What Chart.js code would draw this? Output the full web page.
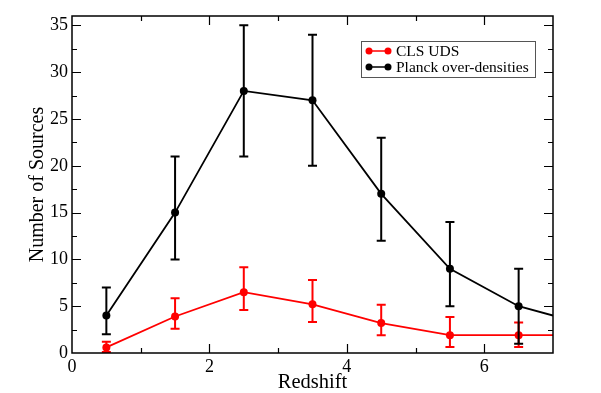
<!DOCTYPE html>
<html>
<head>
<meta charset="utf-8">
<script src="https://cdn.jsdelivr.net/npm/chart.js@4"></script>
<style>
  html, body { margin: 0; padding: 0; background: #fff; }
</style>
</head>
<body>
<canvas id="chart" width="601" height="393"></canvas>
<script>
// Redshift bins (last entry only carries the line to the right edge)
const redshift = [0.5, 1.5, 2.5, 3.5, 4.5, 5.5, 6.5, 7];
const clsUds = [0.6, 3.9, 6.5, 5.2, 3.2, 1.9, 1.9, 1.9];
const clsLow = [0.1, 2.6, 4.6, 3.3, 1.9, 0.65, 0.65];
const clsHigh = [1.2, 5.85, 9.15, 7.8, 5.15, 3.85, 3.25];
const planck = [4, 15, 28, 27, 17, 9, 5, 4];
const planckLow = [2, 10, 21, 20, 12, 5, 1];
const planckHigh = [7, 21, 35, 34, 23, 14, 9];
const seriesNames = ['CLS UDS', 'Planck over-densities'];
const seriesColors = ['#ff0000', '#000000'];

// tick positions: labelled major ticks plus minor ones in between
const xTicks = [0, 1, 2, 3, 4, 5, 6];
const xLabels = [0, 2, 4, 6];
const yTicks = [0, 2.5, 5, 7.5, 10, 12.5, 15, 17.5, 20, 22.5, 25, 27.5, 30, 32.5, 35];
const yLabels = [0, 5, 10, 15, 20, 25, 30, 35];

const serif = "'Liberation Serif', 'DejaVu Serif', serif";

function toPoints(values) {
    return values.map((v, i) => ({ x: redshift[i], y: v }));
}
function radii(values) {
    return values.map((v, i) => i < values.length - 1 ? 4 : 0);
}

// error bars, drawn through the chart scales
const errorBars = {
    id: 'errorBars',
    afterDatasetsDraw(chart) {
        const { ctx, scales: { x, y } } = chart;
        const sets = [
            { low: clsLow, high: clsHigh, color: seriesColors[0] },
            { low: planckLow, high: planckHigh, color: seriesColors[1] }
        ];
        ctx.save();
        sets.forEach(s => {
            ctx.strokeStyle = s.color;
            ctx.lineWidth = 2;
            s.low.forEach((lo, i) => {
                const px = x.getPixelForValue(redshift[i]);
                const y1 = y.getPixelForValue(lo);
                const y2 = y.getPixelForValue(s.high[i]);
                ctx.beginPath();
                ctx.moveTo(px, y1); ctx.lineTo(px, y2);
                ctx.moveTo(px - 4.5, y1); ctx.lineTo(px + 4.5, y1);
                ctx.moveTo(px - 4.5, y2); ctx.lineTo(px + 4.5, y2);
                ctx.stroke();
            });
        });
        ctx.restore();
    }
};

// frame with inward ticks on all four sides
const frame = {
    id: 'frame',
    afterDraw(chart) {
        const { ctx, chartArea: a, scales: { x, y } } = chart;
        ctx.save();
        ctx.strokeStyle = '#000';
        ctx.lineWidth = 1.2;
        ctx.beginPath();
        x.ticks.forEach(t => {
            if (t.value <= x.min || t.value >= x.max) return;
            const px = Math.round(x.getPixelForValue(t.value)) + 0.5;
            const len = xLabels.includes(t.value) ? 9 : 5;
            ctx.moveTo(px, a.bottom); ctx.lineTo(px, a.bottom - len);
            ctx.moveTo(px, a.top); ctx.lineTo(px, a.top + len);
        });
        y.ticks.forEach(t => {
            if (t.value <= y.min || t.value >= y.max) return;
            const py = Math.round(y.getPixelForValue(t.value)) + 0.5;
            const len = yLabels.includes(t.value) ? 9 : 5;
            ctx.moveTo(a.left, py); ctx.lineTo(a.left + len, py);
            ctx.moveTo(a.right, py); ctx.lineTo(a.right - len, py);
        });
        ctx.stroke();
        ctx.lineWidth = 1.5;
        ctx.strokeRect(a.left, a.top, a.right - a.left, a.bottom - a.top);
        ctx.restore();
    }
};

// legend box inside the plot
const boxLegend = {
    id: 'boxLegend',
    afterDraw(chart) {
        const { ctx } = chart;
        ctx.save();
        ctx.fillStyle = '#fff';
        ctx.fillRect(361, 41, 174, 36);
        ctx.strokeStyle = '#555';
        ctx.lineWidth = 1;
        ctx.strokeRect(361.5, 41.5, 174, 36);
        seriesNames.forEach((name, i) => {
            const yy = 51 + i * 16;
            ctx.strokeStyle = seriesColors[i];
            ctx.fillStyle = seriesColors[i];
            ctx.lineWidth = 1.5;
            ctx.beginPath();
            ctx.moveTo(369, yy); ctx.lineTo(388, yy);
            ctx.stroke();
            [369, 388].forEach(cx => {
                ctx.beginPath();
                ctx.arc(cx, yy, 3.5, 0, Math.PI * 2);
                ctx.fill();
            });
            ctx.fillStyle = '#000';
            ctx.font = '15.5px ' + serif;
            ctx.textBaseline = 'middle';
            ctx.fillText(name, 396, yy + 1);
        });
        ctx.restore();
    }
};

const ctx = document.getElementById('chart').getContext('2d');
new Chart(ctx, {
    type: 'line',
    data: {
        datasets: [{
            label: seriesNames[0],
            data: toPoints(clsUds),
            borderColor: seriesColors[0],
            backgroundColor: seriesColors[0],
            borderWidth: 1.8,
            pointRadius: radii(clsUds),
            pointBorderWidth: 0
        }, {
            label: seriesNames[1],
            data: toPoints(planck),
            borderColor: seriesColors[1],
            backgroundColor: seriesColors[1],
            borderWidth: 1.8,
            pointRadius: radii(planck),
            pointBorderWidth: 0
        }]
    },
    options: {
        responsive: false,
        animation: false,
        layout: { padding: { left: 0, top: 16, right: 48, bottom: 0 } },
        plugins: {
            legend: { display: false },
            tooltip: { enabled: false }
        },
        scales: {
            x: {
                type: 'linear',
                min: 0,
                max: 7,
                afterFit: s => { s.height = 40; },
                afterBuildTicks: s => { s.ticks = xTicks.map(v => ({ value: v })); },
                grid: { display: false, drawTicks: false },
                border: { display: false },
                ticks: {
                    padding: 3,
                    color: '#000',
                    maxRotation: 0,
                    autoSkip: false,
                    font: { family: serif, size: 18 },
                    callback: v => xLabels.includes(v) ? v : ''
                },
                title: {
                    display: true,
                    text: 'Redshift',
                    color: '#000',
                    font: { family: serif, size: 20.5, lineHeight: 1 },
                    padding: 0
                }
            },
            y: {
                min: 0,
                max: 36,
                afterFit: s => { s.width = 72; },
                afterBuildTicks: s => { s.ticks = yTicks.map(v => ({ value: v })); },
                grid: { display: false, drawTicks: false },
                border: { display: false },
                ticks: {
                    padding: 4,
                    color: '#000',
                    autoSkip: false,
                    font: { family: serif, size: 18 },
                    callback: v => yLabels.includes(v) ? v : ''
                },
                title: {
                    display: true,
                    text: 'Number of Sources',
                    color: '#000',
                    font: { family: serif, size: 20, lineHeight: 1 },
                    padding: { top: 28, bottom: 0 }
                }
            }
        }
    },
    plugins: [errorBars, frame, boxLegend]
});
</script>
</body>
</html>
